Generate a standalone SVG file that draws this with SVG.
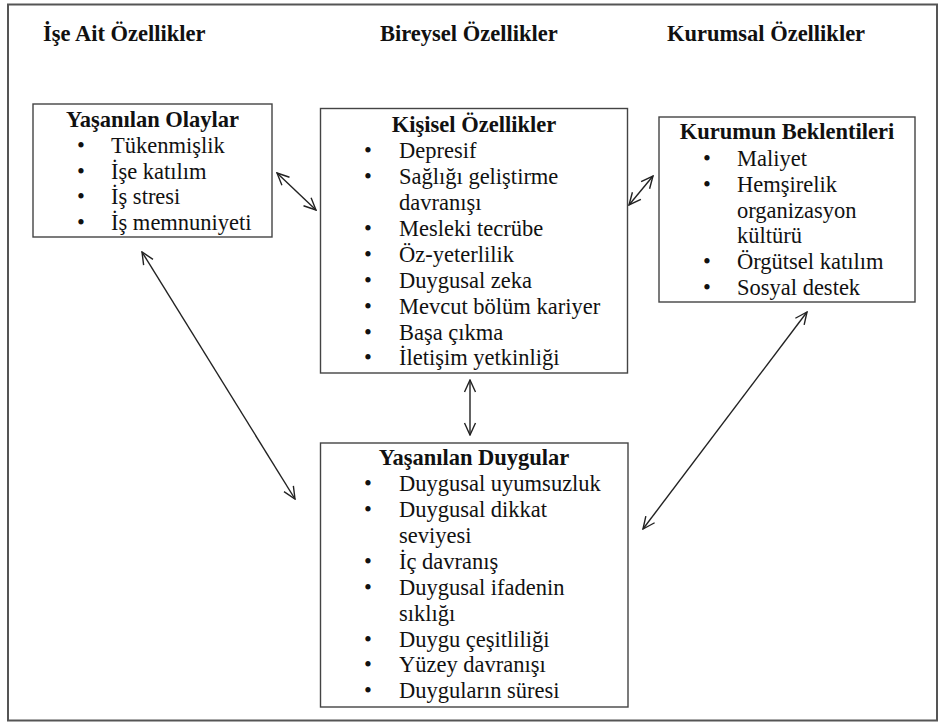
<svg xmlns="http://www.w3.org/2000/svg" width="940" height="722" viewBox="0 0 940 722">
<defs>
<style>
text{font-family:"Liberation Serif","Times New Roman",serif;font-size:22.5px;fill:#111}
.h{font-weight:bold}
.t{font-weight:bold;text-anchor:middle}
.b{text-anchor:middle}
.box{fill:#fff;stroke:#444;stroke-width:1.4}
.c{stroke:#222;stroke-width:1.4;fill:none;marker-start:url(#ah);marker-end:url(#ah)}
</style>
<marker id="ah" viewBox="0 0 14 14" refX="13" refY="7" markerWidth="14" markerHeight="14" markerUnits="userSpaceOnUse" orient="auto-start-reverse">
<path d="M1,1.5 L13,7 L1,12.5" fill="none" stroke="#222" stroke-width="1.4"/>
</marker>
</defs>
<rect x="0" y="0" width="940" height="722" fill="#fff"/>
<rect x="8" y="4.5" width="929" height="716" fill="none" stroke="#555" stroke-width="2"/>
<g id="headings">
<text class="h" x="43" y="41">İşe Ait Özellikler</text>
<text class="h" x="380" y="41">Bireysel Özellikler</text>
<text class="h" x="667" y="41">Kurumsal Özellikler</text>
</g>
<g id="connectors">
<line class="c" x1="277" y1="173" x2="316" y2="210"/>
<line class="c" x1="629" y1="205" x2="653" y2="176"/>
<line class="c" x1="470" y1="380" x2="470" y2="435"/>
<line class="c" x1="142" y1="252" x2="295" y2="499"/>
<line class="c" x1="807" y1="312" x2="643" y2="529"/>
</g>
<g id="node-olaylar">
<rect class="box" x="33" y="104" width="239" height="133"/>
<text class="t" x="152.5" y="127">Yaşanılan Olaylar</text>
<text class="b" x="81" y="153">•</text><text x="111" y="153">Tükenmişlik</text>
<text class="b" x="81" y="178.5">•</text><text x="111" y="178.5">İşe katılım</text>
<text class="b" x="81" y="204">•</text><text x="111" y="204">İş stresi</text>
<text class="b" x="81" y="230">•</text><text x="111" y="230">İş memnuniyeti</text>
</g>
<g id="node-kisisel">
<rect class="box" x="320.5" y="108.5" width="307" height="264.5"/>
<text class="t" x="474" y="132">Kişisel Özellikler</text>
<text class="b" x="368" y="158">•</text><text x="399" y="158">Depresif</text>
<text class="b" x="368" y="184">•</text><text x="399" y="184">Sağlığı geliştirme</text>
<text x="399" y="210">davranışı</text>
<text class="b" x="368" y="236">•</text><text x="399" y="236">Mesleki tecrübe</text>
<text class="b" x="368" y="262">•</text><text x="399" y="262">Öz-yeterlilik</text>
<text class="b" x="368" y="288">•</text><text x="399" y="288">Duygusal zeka</text>
<text class="b" x="368" y="314">•</text><text x="399" y="314">Mevcut bölüm kariyer</text>
<text class="b" x="368" y="340">•</text><text x="399" y="340">Başa çıkma</text>
<text class="b" x="368" y="365">•</text><text x="399" y="365">İletişim yetkinliği</text>
</g>
<g id="node-kurum">
<rect class="box" x="659" y="117" width="256" height="185"/>
<text class="t" x="787" y="139">Kurumun Beklentileri</text>
<text class="b" x="707" y="165.5">•</text><text x="737" y="165.5">Maliyet</text>
<text class="b" x="707" y="191.5">•</text><text x="737" y="191.5">Hemşirelik</text>
<text x="737" y="217.5">organizasyon</text>
<text x="737" y="243">kültürü</text>
<text class="b" x="707" y="269">•</text><text x="737" y="269">Örgütsel katılım</text>
<text class="b" x="707" y="294.5">•</text><text x="737" y="294.5">Sosyal destek</text>
</g>
<g id="node-duygular">
<rect class="box" x="320.5" y="443" width="307.5" height="264"/>
<text class="t" x="474" y="464.5">Yaşanılan Duygular</text>
<text class="b" x="368" y="491">•</text><text x="399" y="491">Duygusal uyumsuzluk</text>
<text class="b" x="368" y="517">•</text><text x="399" y="517">Duygusal dikkat</text>
<text x="399" y="543">seviyesi</text>
<text class="b" x="368" y="569">•</text><text x="399" y="569">İç davranış</text>
<text class="b" x="368" y="595">•</text><text x="399" y="595">Duygusal ifadenin</text>
<text x="399" y="621">sıklığı</text>
<text class="b" x="368" y="646.5">•</text><text x="399" y="646.5">Duygu çeşitliliği</text>
<text class="b" x="368" y="672">•</text><text x="399" y="672">Yüzey davranışı</text>
<text class="b" x="368" y="698">•</text><text x="399" y="698">Duyguların süresi</text>
</g>
</svg>
